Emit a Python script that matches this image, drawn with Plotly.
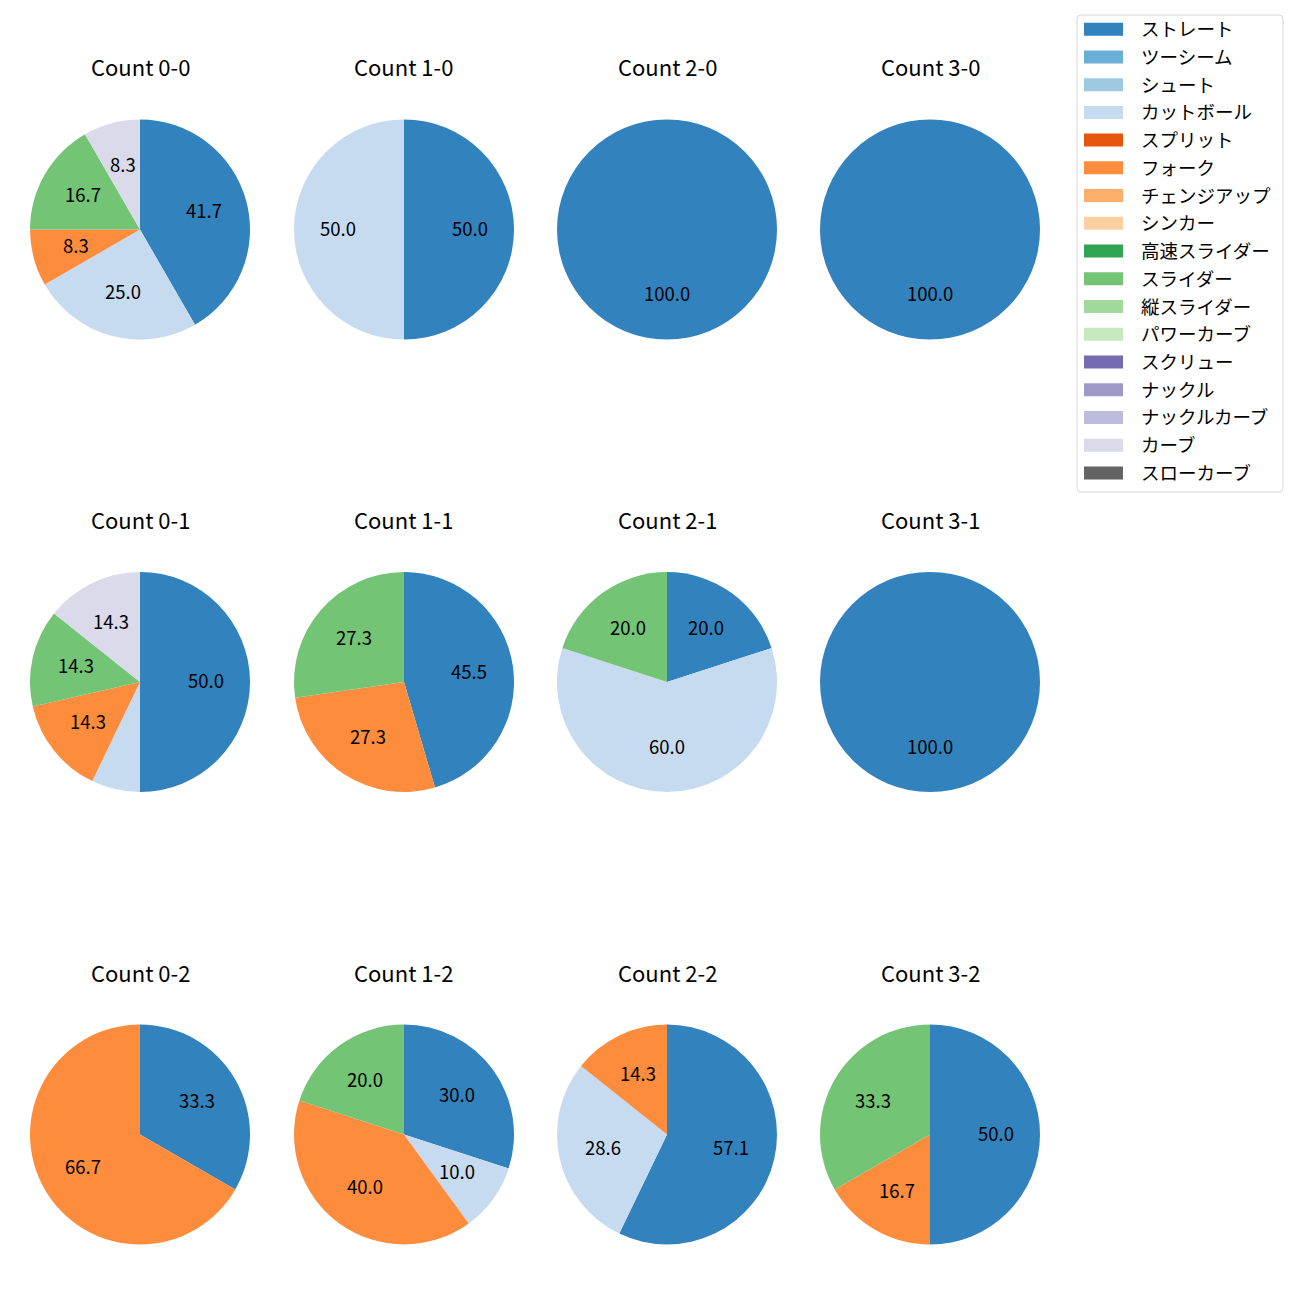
import math
import plotly.graph_objects as go

# ---- data ----
pitch_types = ["ストレート", "ツーシーム", "シュート", "カットボール", "スプリット", "フォーク",
               "チェンジアップ", "シンカー", "高速スライダー", "スライダー", "縦スライダー",
               "パワーカーブ", "スクリュー", "ナックル", "ナックルカーブ", "カーブ", "スローカーブ"]
colors = ["#3182bd", "#6baed6", "#9ecae1", "#c6dbef", "#e6550d", "#fd8d3c", "#fdae6b", "#fdd0a2",
          "#31a354", "#74c476", "#a1d99b", "#c7e9c0", "#756bb1", "#9e9ac8", "#bcbddc", "#dadaeb",
          "#636363"]

# pitch counts per ball-strike count, in pitch_types order
count_0_0 = [5, 0, 0, 3, 0, 1, 0, 0, 0, 2, 0, 0, 0, 0, 0, 1, 0]
count_1_0 = [1, 0, 0, 1, 0, 0, 0, 0, 0, 0, 0, 0, 0, 0, 0, 0, 0]
count_2_0 = [1, 0, 0, 0, 0, 0, 0, 0, 0, 0, 0, 0, 0, 0, 0, 0, 0]
count_3_0 = [1, 0, 0, 0, 0, 0, 0, 0, 0, 0, 0, 0, 0, 0, 0, 0, 0]
count_0_1 = [7, 0, 0, 1, 0, 2, 0, 0, 0, 2, 0, 0, 0, 0, 0, 2, 0]
count_1_1 = [5, 0, 0, 0, 0, 3, 0, 0, 0, 3, 0, 0, 0, 0, 0, 0, 0]
count_2_1 = [1, 0, 0, 3, 0, 0, 0, 0, 0, 1, 0, 0, 0, 0, 0, 0, 0]
count_3_1 = [1, 0, 0, 0, 0, 0, 0, 0, 0, 0, 0, 0, 0, 0, 0, 0, 0]
count_0_2 = [1, 0, 0, 0, 0, 2, 0, 0, 0, 0, 0, 0, 0, 0, 0, 0, 0]
count_1_2 = [3, 0, 0, 1, 0, 4, 0, 0, 0, 2, 0, 0, 0, 0, 0, 0, 0]
count_2_2 = [4, 0, 0, 2, 0, 1, 0, 0, 0, 0, 0, 0, 0, 0, 0, 0, 0]
count_3_2 = [3, 0, 0, 0, 0, 1, 0, 0, 0, 2, 0, 0, 0, 0, 0, 0, 0]

grid = [
    [("Count 0-0", count_0_0), ("Count 1-0", count_1_0), ("Count 2-0", count_2_0), ("Count 3-0", count_3_0)],
    [("Count 0-1", count_0_1), ("Count 1-1", count_1_1), ("Count 2-1", count_2_1), ("Count 3-1", count_3_1)],
    [("Count 0-2", count_0_2), ("Count 1-2", count_1_2), ("Count 2-2", count_2_2), ("Count 3-2", count_3_2)],
]

# ---- layout (pixels) ----
W = H = 1300
col_cx = [140, 404, 667, 930]
row_cy = [229.5, 682, 1134.5]
R = 110
title_dy = 163
label_dy = -2
FONT = "Noto Sans CJK JP"
LABEL_SIZE = 18.5
TITLE_SIZE = 22

def fx(px):
    return px / W

def fy(py):
    return 1 - py / H

fig = go.Figure()
annotations = []
shapes = []

for r, row in enumerate(grid):
    for c, (title, vals) in enumerate(row):
        cx, cy = col_cx[c], row_cy[r]
        labs = [p for p, v in zip(pitch_types, vals) if v > 0]
        cols = [k for k, v in zip(colors, vals) if v > 0]
        vs = [v for v in vals if v > 0]
        fig.add_trace(go.Pie(
            labels=labs, values=vs, sort=False, direction="clockwise", rotation=0,
            marker=dict(colors=cols, line=dict(width=0)),
            textinfo="none", showlegend=False,
            domain=dict(x=[fx(cx - R), fx(cx + R)], y=[fy(cy + R), fy(cy - R)]),
            hovertemplate="%{label}: %{percent}<extra></extra>",
        ))
        total = sum(vs)
        cum = 0.0
        for v in vs:
            pct = 100.0 * v / total
            mid = 90.0 - 360.0 * (cum + v / 2.0) / total
            cum += v
            if pct >= 8:
                lx = cx + 0.6 * R * math.cos(math.radians(mid))
                ly = cy - 0.6 * R * math.sin(math.radians(mid)) + label_dy
                annotations.append(dict(
                    x=fx(lx), y=fy(ly), xref="paper", yref="paper",
                    text=f"{pct:.1f}", showarrow=False, xanchor="center", yanchor="middle",
                    font=dict(family=FONT, size=LABEL_SIZE, color="black")))
        annotations.append(dict(
            x=fx(cx), y=fy(cy - title_dy), xref="paper", yref="paper",
            text=title, showarrow=False, xanchor="center", yanchor="middle",
            font=dict(family=FONT, size=TITLE_SIZE, color="black")))

# ---- legend (drawn manually to mimic the reference box) ----
lx0, lx1, ly0, ly1, rad = 1077, 1283, 15, 492, 4
path = (f"M {fx(lx0+rad)},{fy(ly0)} L {fx(lx1-rad)},{fy(ly0)} Q {fx(lx1)},{fy(ly0)} {fx(lx1)},{fy(ly0+rad)} "
        f"L {fx(lx1)},{fy(ly1-rad)} Q {fx(lx1)},{fy(ly1)} {fx(lx1-rad)},{fy(ly1)} "
        f"L {fx(lx0+rad)},{fy(ly1)} Q {fx(lx0)},{fy(ly1)} {fx(lx0)},{fy(ly1-rad)} "
        f"L {fx(lx0)},{fy(ly0+rad)} Q {fx(lx0)},{fy(ly0)} {fx(lx0+rad)},{fy(ly0)} Z")
shapes.append(dict(type="path", xref="paper", yref="paper", path=path,
                   line=dict(color="#d6d6d6", width=1), fillcolor="white", layer="below"))
row0, step = 29.2, 27.73
for i, (name, col) in enumerate(zip(pitch_types, colors)):
    yc = row0 + i * step
    shapes.append(dict(type="rect", xref="paper", yref="paper",
                       x0=fx(1084), x1=fx(1123), y0=fy(yc + 6.5), y1=fy(yc - 6.5),
                       fillcolor=col, line=dict(width=0)))
    annotations.append(dict(x=fx(1139), y=fy(yc - 1), xref="paper", yref="paper", text=name,
                            showarrow=False, xanchor="left", yanchor="middle",
                            font=dict(family=FONT, size=LABEL_SIZE, color="black")))

fig.update_layout(
    width=W, height=H, margin=dict(l=0, r=0, t=0, b=0),
    paper_bgcolor="white", plot_bgcolor="white",
    annotations=annotations, shapes=shapes,
    font=dict(family=FONT, size=14, color="black"),
)
fig.write_html("out.html", config={"displayModeBar": False},
               post_script="document.body.style.margin='0';")
